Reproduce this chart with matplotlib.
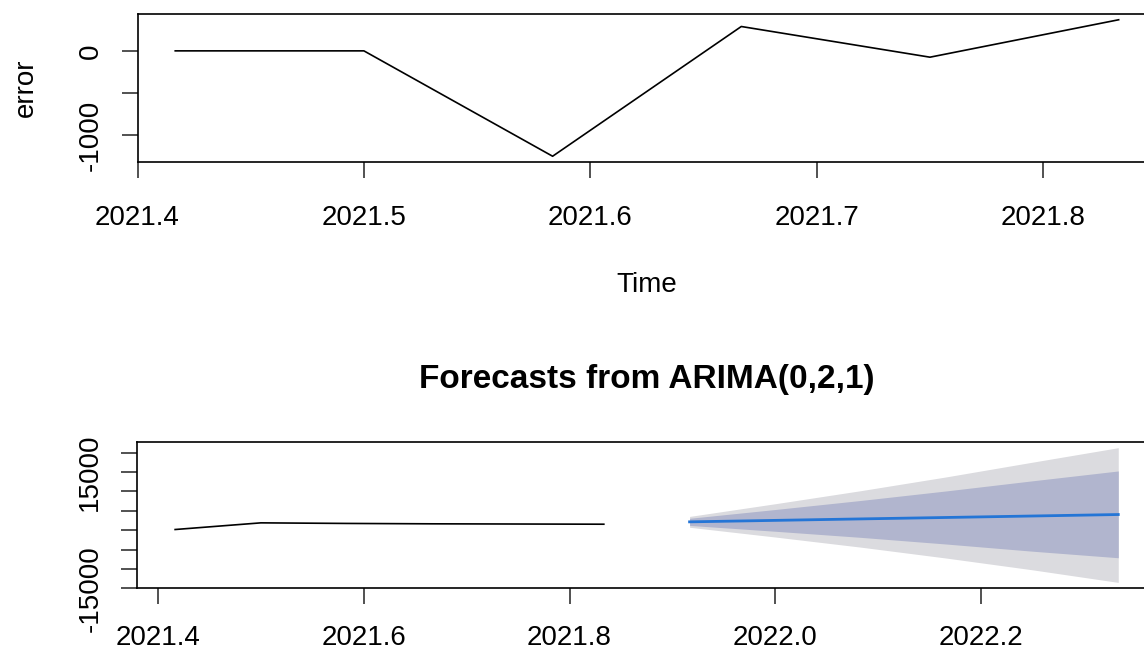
import numpy as np
import matplotlib
matplotlib.use("Agg")
import matplotlib.pyplot as plt

plt.rcParams['font.family'] = ['Liberation Sans', 'DejaVu Sans']

# Monthly time index (Jun 2021 .. Nov 2021) and the forecast horizon (Dec 2021 .. May 2022)
hist_time = [2021 + 5/12, 2021 + 6/12, 2021 + 7/12, 2021 + 8/12, 2021 + 9/12, 2021 + 10/12]
fc_time = [2021 + 11/12, 2022 + 0/12, 2022 + 1/12, 2022 + 2/12, 2022 + 3/12, 2022 + 4/12]

# Errors per month
error_values = [0, 0, -1250, 289, -75, 369]

# Observed series and ARIMA(0,2,1) forecasts with 80% / 95% intervals
hist_values = [180, 1900, 1750, 1650, 1600, 1550]
fc_mean = [2160, 2540, 2920, 3290, 3670, 4050]
fc_lo80 = [1240, -270, -1850, -3580, -5420, -7110]
fc_hi80 = [3080, 5350, 7690, 10160, 12760, 15300]
fc_lo95 = [760, -1760, -4380, -7210, -10230, -13480]
fc_hi95 = [3560, 6840, 10220, 13790, 17570, 21310]

top_xticks = [2021.4, 2021.5, 2021.6, 2021.7, 2021.8]
top_yticks = [-1000, -500, 0]
top_ylabels = ['-1000', '', '0']
bot_xticks = [2021.4, 2021.6, 2021.8, 2022.0, 2022.2]
bot_yticks = [-15000, -10000, -5000, 0, 5000, 10000, 15000, 20000]
bot_ylabels = ['-15000', '', '', '', '', '', '15000', '']

W, H = 1144, 654
fig = plt.figure(figsize=(W / 100, H / 100), dpi=100)


def px_rect(left, top, right, bottom):
    return [left / W, 1 - bottom / H, (right - left) / W, (bottom - top) / H]


ax1 = fig.add_axes(px_rect(137.5, 14.3, 1156.4, 161.7))
ax2 = fig.add_axes(px_rect(137.4, 442.3, 1156.0, 588.3))

LW = 1.2
TICK_LEN = 11.5

for ax in (ax1, ax2):
    for sp in ax.spines.values():
        sp.set_linewidth(LW)
        sp.set_color('black')
    ax.tick_params(axis='both', length=TICK_LEN, width=LW, labelsize=20,
                   color='#333333', labelcolor='black')
    ax.tick_params(axis='y', pad=13, labelrotation=90)
    ax.margins(x=0.04, y=0.04)

ax1.tick_params(axis='x', pad=20)
ax2.tick_params(axis='x', pad=15)

# Top panel: error series
ax1.plot(hist_time, error_values, color='black', linewidth=LW)
ax1.set_xticks(top_xticks)
ax1.set_xticklabels([f"{t:.1f}" for t in top_xticks])
ax1.set_yticks(top_yticks)
ax1.set_yticklabels(top_ylabels, va='center')
ax1.set_xlabel('Time', fontsize=20, labelpad=29)
ax1.set_ylabel('error', fontsize=20, labelpad=28)

# Bottom panel: history, forecast fan and mean forecast
ax2.plot(hist_time, hist_values, color='black', linewidth=LW)
ax2.fill_between(fc_time, fc_lo95, fc_hi95, color='#DBDBDF', linewidth=0)
ax2.fill_between(fc_time, fc_lo80, fc_hi80, color='#B1B5CE', linewidth=0)
ax2.plot(fc_time, fc_mean, color='#2475D6', linewidth=2.0)
ax2.set_xticks(bot_xticks)
ax2.set_xticklabels([f"{t:.1f}" for t in bot_xticks])
ax2.set_yticks(bot_yticks)
ax2.set_yticklabels(bot_ylabels, va='center')
ax2.set_title('Forecasts from ARIMA(0,2,1)', fontsize=24, fontweight='bold', pad=39)

fig.savefig('out.png', dpi=100)
